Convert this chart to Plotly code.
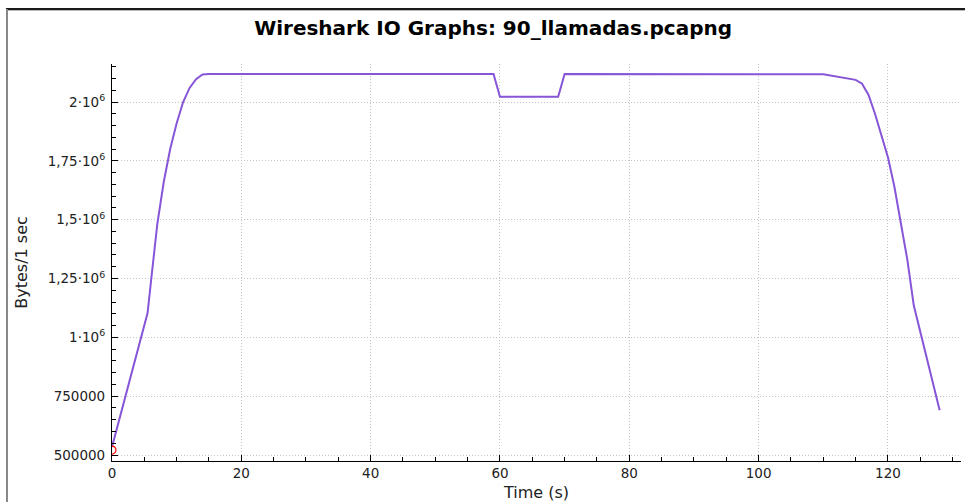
import plotly.graph_objects as go

# ---- data ----
time_s = [0, 5.5, 6, 7, 8, 9, 10, 11, 12, 13, 14, 15, 59, 60, 69, 70, 110, 115, 116, 117, 118, 119, 120, 121, 122, 123, 124, 128]
bytes_per_s = [534000, 1103000, 1230000, 1480000, 1660000, 1800000, 1910000, 2000000, 2060000, 2097000, 2117000, 2119000,
               2119000, 2022500, 2022500, 2119000, 2118000, 2094000, 2078000, 2030000, 1950000, 1860000, 1765000, 1640000,
               1490000, 1330000, 1135000, 690000]

x_ticks = [0, 20, 40, 60, 80, 100, 120]
y_ticks = [500000, 750000, 1000000, 1250000, 1500000, 1750000, 2000000]
y_ticktext = ["500000", "750000", "1·10<sup>6</sup>", "1,25·10<sup>6</sup>", "1,5·10<sup>6</sup>",
              "1,75·10<sup>6</sup>", "2·10<sup>6</sup>"]

W, H = 965, 502
L, R, T, B = 112, 961, 64, 461

def px(x):
    return (x - L) / (R - L)

def py(y):
    return (B - y) / (B - T)

fig = go.Figure()
fig.add_trace(go.Scatter(x=time_s, y=bytes_per_s, mode="lines",
                         line=dict(color="#8755d8", width=2), hoverinfo="x+y", showlegend=False))
fig.add_trace(go.Scatter(x=[0], y=[521000], mode="markers", cliponaxis=True,
                         marker=dict(symbol="circle-open", size=8, color="red", line=dict(width=1.2)),
                         showlegend=False, hoverinfo="skip"))

fig.update_layout(
    width=W, height=H,
    margin=dict(l=L, r=W - R, t=T, b=H - B, autoexpand=False),
    paper_bgcolor="white", plot_bgcolor="white",
    font=dict(family="DejaVu Sans", size=13.5, color="#222222"),
    title=dict(text="<b>Wireshark IO Graphs: 90_llamadas.pcapng</b>", x=0.511, xanchor="center",
               y=1 - 28 / H, yanchor="middle", font=dict(size=20, color="#000000")),
    xaxis=dict(range=[0, 131.3], tickmode="array", tickvals=x_ticks, ticks="inside", ticklen=6,
               tickcolor="#000000", showline=True, linecolor="#000000", linewidth=1.2, automargin=False,
               showgrid=True, gridcolor="#c4c4c4", griddash="1px,2px", gridwidth=1, zeroline=False,
               minor=dict(dtick=5, tick0=0, ticks="inside", ticklen=4, tickcolor="#000000", showgrid=False),
               title=dict(text="Time (s)", standoff=6), mirror=False),
    yaxis=dict(range=[474500, 2161500], tickmode="array", tickvals=y_ticks, ticktext=y_ticktext,
               ticks="inside", ticklen=6, tickcolor="#000000", showline=True, linecolor="#000000",
               linewidth=1.2, showgrid=True, gridcolor="#c4c4c4", griddash="1px,2px", gridwidth=1, zeroline=False,
               automargin=False, ticklabelstandoff=3,
               minor=dict(dtick=50000, tick0=0, ticks="inside", ticklen=4, tickcolor="#000000", showgrid=False),
               title=dict(text="Bytes/1 sec", standoff=16), mirror=False),
    shapes=[
        dict(type="line", xref="paper", yref="paper", x0=px(6), x1=px(965), y0=py(9), y1=py(9),
             line=dict(color="#1a1a1a", width=2)),
        dict(type="line", xref="paper", yref="paper", x0=px(6), x1=px(965), y0=py(10.5), y1=py(10.5),
             line=dict(color="#bbbbbb", width=1)),
        dict(type="line", xref="paper", yref="paper", x0=px(7), x1=px(7), y0=py(9), y1=py(502),
             line=dict(color="#888888", width=2)),
    ],
)

fig.write_html("out.html", config={"displayModeBar": False},
               post_script="document.body.style.margin='0';document.body.style.overflow='hidden';")
